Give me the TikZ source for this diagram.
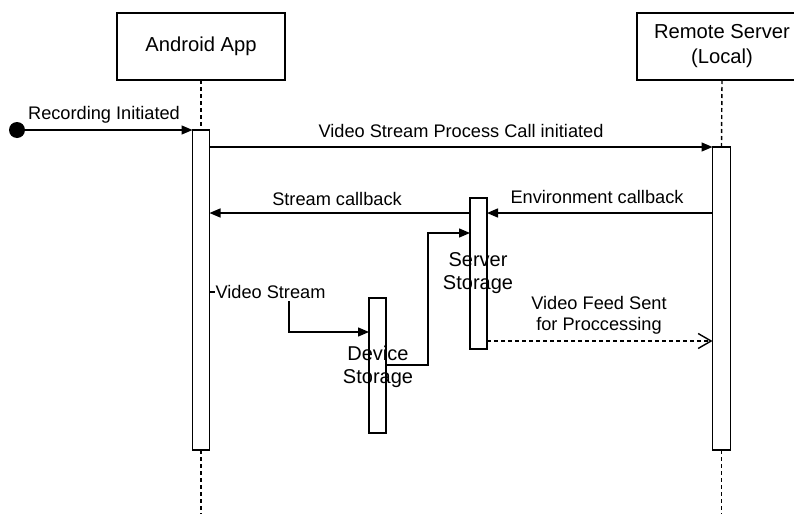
\documentclass[tikz,border=0pt]{standalone}
\usepackage{fontspec}
\setmainfont{Liberation Sans}
\usetikzlibrary{arrows.meta}
\begin{document}
\begin{tikzpicture}[x=1pt,y=-1pt,
  every node/.style={inner sep=0pt,outer sep=0pt},
  box/.style={draw,line width=1.4pt,fill=white,font=\fontsize{20.2}{25}\selectfont,align=center},
  actbar/.style={draw,line width=1.4pt,fill=white,minimum width=17pt},
  life/.style={line width=1.4pt,dash pattern=on 4pt off 3pt},
  msg/.style={line width=1.4pt,-{Triangle[length=11pt,width=9pt]}},
  ret/.style={line width=1.4pt,dash pattern=on 4pt off 3pt,-{Straight Barb[length=13pt,width=15pt,line width=1.4pt]}},
  lbl/.style={font=\fontsize{18.2}{21}\selectfont,align=center},
  biglbl/.style={font=\fontsize{20}{23}\selectfont,align=center}
]
\useasboundingbox (0,0) rectangle (794,514);
\fill[white] (0,0) rectangle (794,514);

% participants
\node[box,minimum width=168pt,minimum height=67pt] (aa) at (201,46.5) {Android App};
\node[box,minimum width=170pt,minimum height=67pt] (rs) at (722,46.5) {Remote Server\\(Local)};

% lifeline ends
\coordinate (aend) at (201,514);
\coordinate (rend) at (721.5,514);

% activation bars
\node[actbar,minimum height=320pt] (ab) at (201,290) {};
\node[actbar,minimum width=18pt,minimum height=303pt] (rb) at (721.5,298.5) {};

% lifelines
\draw[life] (aa.south) -- (ab.north);
\draw[life] (ab.south) -- (aend);
\draw[life] (rs.south) -- (rb.north);
\draw[life] (rb.south) -- (rend);

% storage bars
\node[actbar,minimum height=151pt] (ss) at (478.5,273.5) {};
\node[actbar,minimum height=135pt] (ds) at (377.5,365.5) {};

% helper coordinates
\coordinate (y213) at (0,213);
\coordinate (y292) at (0,292);
\coordinate (vsx) at (289,292);
\coordinate (y332) at (0,332);
\coordinate (y365) at (0,365);
\coordinate (c428) at (428,233);
\coordinate (y341) at (0,341);

% start
\node[circle,fill=black,minimum size=16pt] (st) at (17,130) {};
\draw[msg] (st.center) -- (ab.north west);
\node[lbl] (lrec) at (104,115) {Recording Initiated};

% call
\draw[msg] (ab.east |- rb.north) -- (rb.north west);
\node[lbl] (lcall) at (461,131) {Video Stream Process Call initiated};

% callbacks
\draw[msg] (rb.west |- y213) -- (ss.east |- y213);
\node[lbl] (lenv) at (597,197) {Environment callback};
\draw[msg] (ss.west |- y213) -- (ab.east |- y213);
\node[lbl] (lstr) at (337,199) {Stream callback};

% video stream to device storage
\draw[msg] (ab.east |- y292) -- (vsx) |- (ds.west |- y332);
\node[lbl,fill=white,inner xsep=1pt,inner ysep=2pt] (lvs) at (270.5,292) {Video Stream};

% device storage to server storage
\draw[msg] (ds.east |- y365) -| (c428) -- (ss.west |- c428);

% video feed
\draw[ret] (ss.east |- y341) -- (rb.west |- y341);
\node[lbl] (lfeed) at (599,315.5) {Video Feed Sent\\for Proccessing};

% bar labels
\node[biglbl] (lds) at (378,366.5) {Device\\Storage};
\node[biglbl] (lss) at (478,273.5) {Server\\Storage};
\end{tikzpicture}
\end{document}
